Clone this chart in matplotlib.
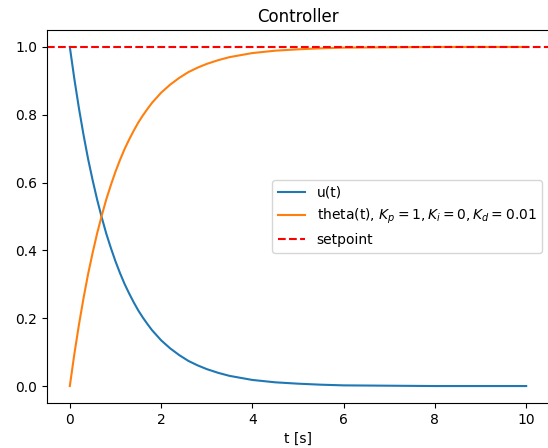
import numpy as np
import matplotlib.pyplot as plt

# values
t = [0, 0.1, 0.2, 0.3, 0.4, 0.5, 0.6, 0.7, 0.8, 0.9, 1.0, 1.1, 1.2, 1.3, 1.4,
     1.5, 1.6, 1.7, 1.8, 1.9, 2.0, 2.2, 2.4, 2.6, 2.8, 3.0, 3.25, 3.5, 3.75,
     4.0, 4.5, 5.0, 5.5, 6.0, 7.0, 8.0, 9.0, 10.0]
u = [1.000, 0.905, 0.819, 0.741, 0.670, 0.607, 0.549, 0.497, 0.449, 0.407,
     0.368, 0.333, 0.301, 0.273, 0.247, 0.223, 0.202, 0.183, 0.165, 0.150,
     0.135, 0.111, 0.091, 0.074, 0.061, 0.050, 0.039, 0.030, 0.024,
     0.018, 0.011, 0.007, 0.004, 0.002, 0.001, 0.000, 0.000, 0.000]
theta = [0.000, 0.095, 0.181, 0.259, 0.330, 0.393, 0.451, 0.503, 0.551, 0.593,
         0.632, 0.667, 0.699, 0.727, 0.753, 0.777, 0.798, 0.817, 0.835, 0.850,
         0.865, 0.889, 0.909, 0.926, 0.939, 0.950, 0.961, 0.970, 0.976,
         0.982, 0.989, 0.993, 0.996, 0.998, 0.999, 1.000, 1.000, 1.000]
setpoint = 1.0

fig = plt.figure(figsize=(5.48, 4.48), dpi=100)
ax = fig.add_axes([47/548, 45/448, 502/548, 373/448])

ax.plot(t, u, label='u(t)')
ax.plot(t, theta, label='theta(t), $K_p = 1, K_i = 0, K_d = 0.01$')
ax.axhline(setpoint, color='r', linestyle='--', label='setpoint')

ax.set_title('Controller')
ax.set_xlabel('t [s]')
ax.legend(loc='center right')

fig.savefig('out.png', dpi=100)
